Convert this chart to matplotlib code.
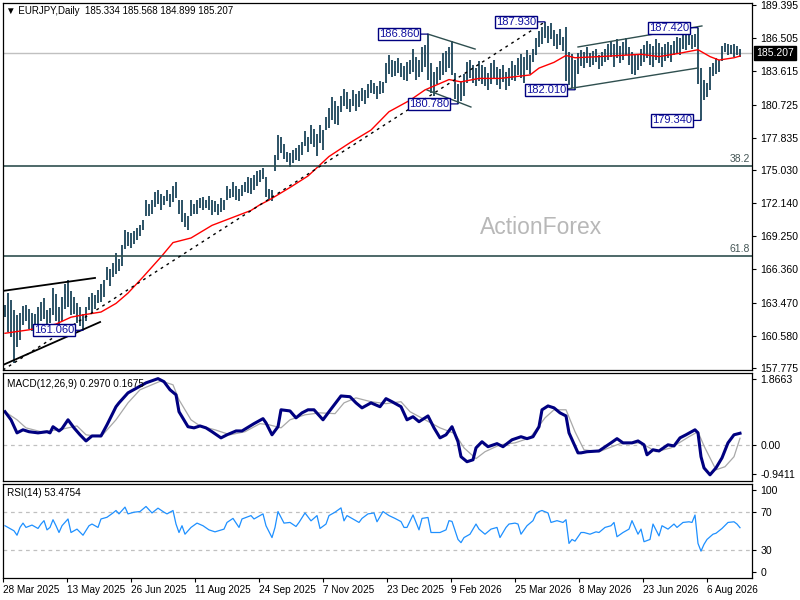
import matplotlib
matplotlib.use("Agg")
import matplotlib.pyplot as plt
import matplotlib.transforms as mtransforms
import numpy as np

plt.rcParams['font.family'] = ['Liberation Sans', 'DejaVu Sans']

# daily bars, EURJPY (high / low)
hi = [163.3, 164.3, 163.7, 162.8, 162.4, 162.6, 163.2, 163.3, 162.9, 162.6,
      162.5, 163.1, 163.5, 163.9, 162.8, 163.0, 164.7, 164.2, 163.1, 164.0,
      165.1, 165.4, 164.5, 164.0, 163.4, 163.1, 162.5, 163.1, 164.0, 164.3,
      164.1, 164.6, 165.1, 165.4, 166.6, 166.4, 166.9, 167.8, 167.3, 168.5,
      169.8, 169.6, 169.5, 169.7, 170.0, 170.2, 170.7, 172.4, 172.1, 172.4,
      173.1, 173.3, 172.9, 172.8, 173.3, 172.9, 173.6, 174.0, 172.4, 172.4,
      171.3, 171.0, 172.4, 172.1, 172.4, 172.6, 172.7, 172.4, 172.8, 172.4,
      172.3, 172.1, 172.6, 172.4, 173.6, 173.4, 174.0, 173.6, 173.4, 173.7,
      174.0, 174.4, 174.3, 174.6, 174.9, 175.0, 175.2, 174.4, 173.4, 173.3,
      176.3, 178.1, 177.9, 177.3, 176.6, 176.5, 176.8, 176.9, 177.2, 177.5,
      178.4, 177.9, 178.9, 178.6, 178.2, 178.9, 178.5, 179.6, 180.4, 181.4,
      181.0, 180.6, 181.5, 182.1, 181.8, 181.2, 182.0, 181.6, 181.9, 182.2,
      182.0, 182.5, 182.9, 182.6, 182.3, 182.8, 182.7, 184.3, 185.0, 184.6,
      184.5, 184.8, 184.3, 184.1, 184.4, 184.6, 185.6, 184.9, 184.6, 185.7,
      185.9, 186.86, 184.3, 183.6, 184.0, 184.5, 185.2, 185.4, 185.7, 186.3,
      183.5, 182.5, 182.8, 183.4, 184.4, 184.6, 184.2, 183.9, 184.5, 184.2,
      184.0, 183.5, 184.3, 184.6, 184.0, 183.8, 184.2, 183.6, 183.9, 184.5,
      184.2, 184.8, 185.1, 184.9, 185.5, 185.0, 185.6, 186.5, 187.1, 187.5,
      187.93, 187.6, 187.8, 187.2, 186.9, 187.3, 186.6, 187.5, 185.3, 185.1,
      184.6, 185.2, 185.5, 185.3, 185.7, 185.2, 185.4, 185.6, 185.0, 185.3,
      185.6, 186.0, 186.3, 186.0, 186.4, 185.8, 186.2, 186.5, 185.7, 185.3,
      185.1, 185.0, 185.6, 185.9, 186.3, 186.0, 185.8, 186.4, 186.1, 185.7,
      186.0, 186.2, 185.9, 186.3, 186.6, 186.5, 186.9, 187.0, 187.2, 186.8,
      186.9, 187.42, 183.9, 182.9, 182.6, 184.0, 184.3, 184.75, 184.6, 185.8,
      186.1, 186.0, 185.9, 186.0, 185.8, 185.568]
lo = [162.2, 160.9, 160.5, 158.2, 159.6, 160.2, 161.5, 161.9, 161.2, 161.0,
      161.5, 161.4, 161.9, 162.0, 161.2, 161.7, 162.4, 161.9, 161.6, 161.9,
      162.9, 163.1, 162.4, 162.5, 161.7, 161.4, 161.06, 161.9, 162.8, 162.6,
      162.9, 163.4, 163.5, 164.0, 165.4, 164.9, 165.7, 166.0, 166.2, 166.7,
      168.1, 168.4, 168.2, 168.6, 168.9, 169.3, 169.8, 171.0, 171.0, 171.2,
      171.8, 172.1, 171.5, 172.0, 172.3, 171.8, 172.2, 172.6, 171.2, 170.5,
      170.1, 169.8, 171.0, 171.2, 171.2, 171.7, 171.5, 171.7, 171.5, 171.1,
      171.4, 171.1, 171.4, 171.5, 172.4, 172.6, 172.7, 172.4, 172.3, 172.8,
      173.1, 173.0, 172.9, 173.3, 173.6, 174.0, 174.2, 172.7, 172.4, 172.3,
      174.9, 175.9, 176.5, 176.0, 175.7, 175.3, 175.6, 175.9, 175.8, 176.3,
      177.1, 176.6, 177.3, 177.0, 176.2, 177.4, 176.8, 178.5, 178.7, 179.4,
      179.0, 178.9, 180.1, 180.6, 180.3, 180.1, 180.6, 180.2, 180.5, 181.0,
      180.8, 181.3, 181.7, 181.6, 181.2, 181.6, 181.7, 182.6, 183.4, 183.1,
      183.2, 183.5, 183.1, 182.9, 182.8, 183.4, 183.6, 182.9, 183.1, 183.6,
      184.0, 182.9, 181.7, 181.5, 182.5, 182.9, 183.3, 183.6, 183.9, 183.3,
      181.2, 180.78, 181.0, 181.5, 182.6, 183.0, 182.6, 182.3, 182.8, 182.5,
      182.3, 182.0, 182.5, 183.0, 182.4, 182.1, 182.7, 182.0, 182.3, 182.9,
      182.8, 183.3, 183.0, 182.6, 183.7, 183.4, 184.4, 185.0, 185.7, 186.0,
      186.5, 186.1, 186.4, 185.8, 185.6, 185.9, 185.4, 182.8, 182.4, 182.2,
      182.01, 183.4, 184.1, 183.9, 184.3, 184.0, 184.2, 184.4, 183.8, 184.1,
      184.4, 184.6, 184.9, 184.0, 184.8, 184.3, 184.6, 185.0, 184.2, 183.4,
      183.3, 183.7, 184.1, 184.4, 184.8, 184.2, 184.0, 184.6, 184.3, 184.0,
      184.5, 184.8, 184.4, 185.0, 185.2, 185.0, 185.6, 185.5, 185.9, 185.6,
      185.7, 182.5, 179.34, 181.1, 181.4, 182.0, 183.2, 183.4, 183.6, 184.5,
      185.3, 185.0, 185.1, 184.9, 185.0, 184.899]
last_close = 185.207
header = "EURJPY,Daily  185.334 185.568 184.899 185.207"

# red moving average (bar, value)
ma_bar = [0, 8, 17, 22, 26, 32, 37, 41, 46, 52, 56, 62, 69, 76, 82, 85, 88, 95,
          101, 108, 115, 122, 128, 135, 140, 148, 152, 158, 165, 175, 178, 183,
          187, 190, 198, 205, 212, 218, 225, 231, 235, 238, 243, 245]
ma_val = [160.8, 161.1, 161.6, 162.2, 162.4, 162.65, 163.4, 164.3, 165.7, 167.45,
          168.7, 169.1, 170.2, 170.9, 171.5, 172.0, 172.4, 173.5, 174.5, 176.2,
          177.4, 178.5, 180.1, 181.1, 182.0, 182.9, 182.7, 183.0, 183.0, 183.3,
          183.9, 184.4, 185.0, 184.8, 184.9, 185.0, 185.1, 184.9, 185.2, 185.5,
          184.9, 184.6, 184.8, 184.95]

# swing labels: (bar, 'hi'/'lo')
pivots = [(26, 'lo'), (141, 'hi'), (151, 'lo'), (180, 'hi'), (190, 'lo'),
          (231, 'hi'), (232, 'lo')]

# trend lines: (bar0, price0, bar1, price1, style)
trend_lines = [(-0.67, 157.60, 180, 187.93, 'dash'),
               (-0.67, 164.49, 30, 165.62, 'wedge'),
               (-0.67, 158.04, 31.7, 161.78, 'wedge'),
               (141, 186.86, 156.7, 185.56, 'slate'),
               (140.7, 181.99, 155.3, 180.51, 'slate'),
               (191, 185.74, 232.3, 187.57, 'slate'),
               (187.3, 182.08, 231, 183.91, 'slate')]
fib_levels = [175.37, 167.53]
fib_names = ['38.2', '61.8']

price_ticks = [189.395, 186.505, 183.615, 180.725, 177.835, 175.030,
               172.140, 169.250, 166.360, 163.470, 160.580, 157.775]

# MACD(12,26,9)
macd_bar = [0, 2, 4, 6, 8, 11, 14, 15, 16, 18, 19, 21, 23, 25, 27, 29, 32, 34, 37, 38,
            41, 44, 47, 51, 53, 55, 57, 58, 61, 63, 65, 67, 69, 72, 74, 77, 79, 83, 86, 87,
            89, 91, 92, 95, 97, 99, 101, 103, 106, 108, 112, 115, 117, 119, 122, 125, 127,
            129, 132, 134, 136, 138, 141, 143, 145, 147, 149, 151, 152, 154, 156, 157, 159,
            161, 164, 166, 169, 172, 174, 176, 178, 179, 181, 183, 185, 187, 188, 191, 192,
            194, 198, 202, 204, 206, 209, 211, 213, 214, 216, 218, 221, 223, 225, 227, 230,
            231, 232, 233, 235, 237, 239, 241, 243, 245]
macd_val = [0.86, 0.65, 0.31, 0.39, 0.34, 0.31, 0.34, 0.31, 0.47, 0.36, 0.42, 0.65, 0.44,
            0.26, 0.10, 0.23, 0.23, 0.52, 0.99, 1.09, 1.35, 1.48, 1.61, 1.72, 1.64, 1.43,
            1.30, 0.86, 0.47, 0.44, 0.49, 0.44, 0.34, 0.18, 0.26, 0.36, 0.36, 0.55, 0.68,
            0.57, 0.26, 0.47, 0.91, 0.88, 0.70, 0.83, 0.91, 0.91, 0.65, 0.86, 1.27, 1.25,
            1.09, 0.96, 1.09, 0.99, 1.20, 1.12, 0.99, 0.65, 0.73, 0.60, 0.75, 0.44, 0.18,
            0.26, 0.47, 0.08, -0.31, -0.44, -0.39, -0.08, 0.08, -0.05, 0.03, -0.05, 0.13,
            0.21, 0.16, 0.21, 0.47, 0.91, 1.01, 0.96, 0.83, 0.75, 0.31, -0.21, -0.21, -0.18,
            -0.16, 0.05, 0.16, 0.05, 0.05, 0.10, 0.0, -0.26, -0.13, -0.16, 0.0, -0.03, 0.18,
            0.26, 0.39, 0.31, -0.31, -0.60, -0.78, -0.60, -0.34, 0.05, 0.26, 0.30]
sig_bar = [0, 4, 7, 12, 18, 24, 27, 32, 37, 41, 45, 52, 56, 58, 62, 65, 70, 75, 80, 85,
           88, 92, 95, 100, 105, 110, 113, 117, 122, 127, 132, 135, 140, 145, 150, 153,
           157, 160, 165, 170, 175, 180, 183, 187, 190, 193, 198, 205, 212, 217, 222, 228,
           231, 233, 237, 240, 243, 245]
sig_val = [0.86, 0.65, 0.44, 0.34, 0.39, 0.49, 0.26, 0.21, 0.65, 1.09, 1.43, 1.66, 1.56,
           1.17, 0.65, 0.49, 0.39, 0.26, 0.34, 0.55, 0.52, 0.44, 0.65, 0.78, 0.83, 0.81,
           1.09, 1.22, 1.12, 1.07, 1.12, 0.86, 0.65, 0.44, 0.29, -0.08, -0.36, -0.18, 0.0,
           0.05, 0.18, 0.70, 0.91, 0.91, 0.34, -0.13, -0.18, 0.03, 0.05, -0.18, -0.08, 0.21,
           0.34, -0.03, -0.65, -0.57, -0.31, 0.17]
macd_min, macd_max = -0.9411, 1.8663

# RSI(14)
rsi_bar = [0, 1, 3, 4, 5, 6, 7, 9, 11, 12, 13, 14, 15, 16, 17, 18, 19, 21, 22, 24,
           26, 28, 29, 31, 32, 34, 36, 37, 38, 40, 41, 43, 45, 47, 49, 51, 53, 54, 56, 57,
           58, 59, 60, 62, 64, 66, 68, 70, 73, 74, 76, 78, 79, 82, 83, 86, 87, 89, 90, 91,
           93, 95, 97, 98, 100, 102, 104, 105, 107, 108, 110, 112, 113, 114, 116, 118, 119,
           121, 123, 124, 126, 128, 130, 132, 133, 134, 136, 138, 139, 141, 142, 145, 147,
           148, 149, 151, 152, 153, 155, 157, 158, 160, 162, 164, 165, 167, 168, 170, 171,
           172, 174, 176, 177, 178, 179, 181, 182, 184, 186, 187, 188, 189, 190, 192, 193,
           195, 197, 198, 200, 202, 203, 204, 206, 208, 209, 211, 212, 213, 215, 216, 218,
           219, 221, 223, 224, 226, 228, 229, 230, 231, 232, 233, 234, 236, 237, 239, 241,
           243, 244, 245]
rsi_val = [55.6, 53.8, 50.2, 45.5, 53.8, 58.4, 53.8, 56.3, 52.7, 57.4,
           61.0, 51.2, 53.8, 62.0, 55.6, 48.4, 55.6, 62.8, 48.4, 52.0,
           45.5, 55.6, 57.4, 53.8, 62.8, 64.6, 69.2, 71.8, 68.2, 75.4,
           68.2, 70.0, 70.7, 76.1, 69.2, 74.3, 70.0, 68.2, 71.8, 57.4,
           48.4, 55.6, 46.6, 53.8, 58.4, 55.6, 51.2, 49.1, 52.0, 59.1,
           63.4, 53.8, 62.8, 66.4, 62.8, 68.2, 55.6, 43.0, 53.8, 70.7,
           58.4, 59.1, 54.8, 59.1, 69.2, 60.8, 66.4, 52.7, 57.4, 66.4,
           70.0, 74.6, 60.8, 66.4, 62.8, 59.1, 63.4, 68.2, 69.2, 59.8,
           70.7, 66.4, 63.4, 60.0, 53.8, 53.8, 67.1, 51.2, 63.4, 64.4,
           48.4, 48.4, 51.2, 61.0, 60.2, 41.0, 37.6, 43.0, 46.6, 57.4,
           52.0, 46.6, 52.0, 53.8, 43.0, 53.8, 57.4, 58.4, 57.4, 46.6,
           55.6, 61.0, 68.2, 70.7, 71.8, 69.2, 59.1, 61.0, 59.1, 62.0,
           36.8, 41.0, 39.2, 48.4, 48.4, 46.6, 49.1, 48.4, 53.8, 55.6,
           59.1, 43.9, 48.4, 52.0, 61.0, 46.6, 52.0, 38.6, 41.0, 57.4,
           44.8, 55.6, 52.0, 57.4, 53.8, 59.1, 59.8, 59.1, 67.0, 36.8,
           28.6, 35.8, 41.0, 46.6, 47.6, 52.7, 59.1, 59.8, 57.4, 53.5]

date_labels = ['28 Mar 2025', '13 May 2025', '26 Jun 2025', '11 Aug 2025', '24 Sep 2025',
               '7 Nov 2025', '23 Dec 2025', '9 Feb 2026', '25 Mar 2026', '8 May 2026',
               '23 Jun 2026', '6 Aug 2026']

bar_col = '#1b4459'
slate = '#2f4f4f'
navy = '#000080'

W, H = 800, 600
fig = plt.figure(figsize=(8, 6), dpi=100)


def rect(x0, y0, x1, y1):
    return [x0 / W, 1 - y1 / H, (x1 - x0) / W, (y1 - y0) / H]


ax = fig.add_axes(rect(3, 3, 752, 370))
axm = fig.add_axes(rect(3, 373, 752, 481), sharex=ax)
axr = fig.add_axes(rect(3, 484, 752, 578), sharex=ax)

x = np.arange(len(hi))
ax.vlines(x, lo, hi, color=bar_col, lw=1.3)
ax.plot(ma_bar, ma_val, color='red', lw=1.0)
ax.axhline(last_close, color='#c0c0c0', lw=1.0, zorder=0)

for lev, name in zip(fib_levels, fib_names):
    ax.axhline(lev, color=slate, lw=1.2)
    ax.text(0.997, lev + 0.15, name, transform=mtransforms.blended_transform_factory(ax.transAxes, ax.transData),
            ha='right', va='bottom', fontsize=7.5, color='#445555')

for b0, p0, b1, p1, st in trend_lines:
    if st == 'dash':
        ax.plot([b0, b1], [p0, p1], color='black', lw=1.0, ls=(0, (2, 3)))
    elif st == 'wedge':
        ax.plot([b0, b1], [p0, p1], color='black', lw=1.3)
    else:
        ax.plot([b0, b1], [p0, p1], color=slate, lw=1.0)

for b, kind in pivots:
    p = hi[b] if kind == 'hi' else lo[b]
    ax.annotate(f"{p:.3f}", xy=(b, p), xytext=(-9, 0), textcoords='offset pixels',
                ha='right', va='center', fontsize=8, color='#1010a0',
                bbox=dict(boxstyle='square,pad=0.1', fc='white', ec=navy, lw=1.0),
                arrowprops=dict(arrowstyle='-', color=navy, lw=0.9, shrinkA=0, shrinkB=0))

ax.text(0.718, 0.387, 'ActionForex', transform=ax.transAxes, ha='center', va='center',
        fontsize=16.5, color='#b8b8b8', zorder=0)

ax.set_ylim(157.60, 189.57)
ax.set_yticks(price_ticks)
ax.set_yticklabels([f"{t:.3f}" for t in price_ticks])
ax.text(1.006, last_close, f"{last_close:.3f}",
        transform=mtransforms.blended_transform_factory(ax.transAxes, ax.transData),
        ha='left', va='center', fontsize=7.5, color='white',
        bbox=dict(boxstyle='square,pad=0.2', fc='black', ec='black'), clip_on=False)

# MACD panel
axm.axhline(0, color='#c0c0c0', lw=0.9, ls=(0, (3, 3)))
axm.plot(sig_bar, sig_val, color='#a8a8a8', lw=0.9)
axm.plot(macd_bar, macd_val, color=navy, lw=2.2)
axm.set_ylim(macd_min, macd_max)
axm.set_yticks([1.70, 0.0, -0.75])
axm.set_yticklabels([f"{macd_max:.4f}", '0.00', f"{macd_min:.4f}"])
axm.text(0.006, 0.9, 'MACD(12,26,9) 0.2970 0.1675', transform=axm.transAxes,
         ha='left', va='center', fontsize=7.2)

# RSI panel
for lev in (70, 30):
    axr.axhline(lev, color='#c0c0c0', lw=0.9, ls=(0, (3, 3)))
axr.plot(rsi_bar, rsi_val, color='#1e90ff', lw=0.9)
axr.set_ylim(0, 100)
axr.set_yticks([93.5, 70, 30, 6.5])
axr.set_yticklabels(['100', '70', '30', '0'])
axr.text(0.006, 0.9, 'RSI(14) 53.4754', transform=axr.transAxes,
         ha='left', va='center', fontsize=7.2)

ax.set_xlim(-0.667, 249.0)
date_pos = [(3 + 64 * k - 5) / 3 for k in range(len(date_labels))]
axr.set_xticks(date_pos)
axr.set_xticklabels(date_labels, ha='left', fontsize=7.2)

for a in (ax, axm, axr):
    a.yaxis.tick_right()
    a.tick_params(axis='y', direction='out', length=3, width=0.8, pad=3, labelsize=7.6)
    for s in a.spines.values():
        s.set_linewidth(0.9)
        s.set_color('black')
for a in (ax, axm):
    a.tick_params(axis='x', bottom=False, labelbottom=False)
axr.tick_params(axis='x', direction='out', length=3, width=0.8, pad=2)

fig.text(6 / W, 1 - 11 / H, '\u25bc ' + header, ha='left', va='center', fontsize=7)

fig.savefig('out.png', dpi=100)
